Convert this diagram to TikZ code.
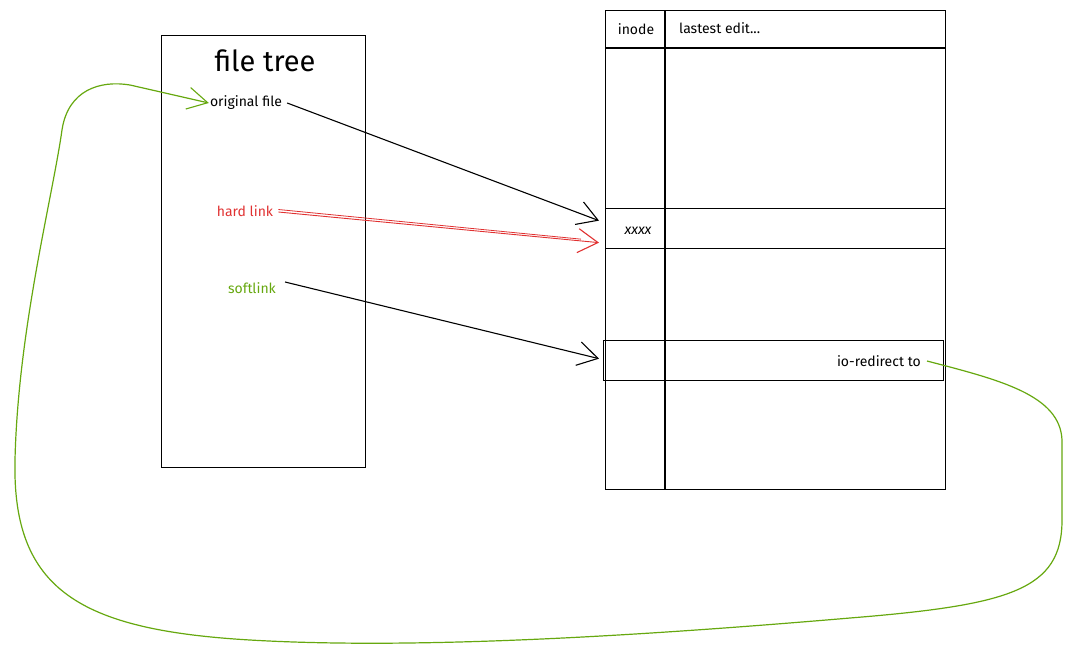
\documentclass[tikz,border=0pt]{standalone}
\usepackage{fontspec}
\setmainfont{Fira Sans}
\usetikzlibrary{arrows.meta,calc}
\definecolor{exred}{RGB}{224,49,49}
\definecolor{exgreen}{RGB}{102,168,15}
\tikzset{
  box/.style={draw=black, line width=1.3pt},
  lbl/.style={font=\fontsize{14}{16}\selectfont, inner sep=1pt},
  arr/.style={line width=1.1pt, -{Straight Barb[length=20pt,width=24pt,line width=1.1pt]}},
}
\begin{document}
\begin{tikzpicture}[x=1pt,y=-1pt]
\useasboundingbox (0,0) rectangle (1078,654);
% file tree
\node[box, minimum width=204pt, minimum height=432pt, anchor=north west, inner sep=0pt] (tree) at (161,35) {};
\node[font=\fontsize{29}{32}\selectfont] (title) at (265,61) {file tree};
\node[lbl] (orig) at (246,103) {original file};
\node[lbl, text=exred] (hard) at (245,211) {hard link};
\node[lbl, text=exgreen] (soft) at (252,288) {softlink};
% table
\node[box, minimum width=340pt, minimum height=479pt, anchor=north west, inner sep=0pt] (table) at (605,10) {};
\draw[box] (665,10) -- (665,489);
\draw[box] (605,48) -- (945,48);
\node[lbl, anchor=center] (inode) at (636,29) {inode};
\node[lbl, anchor=west] (edit) at (678,28) {lastest edit...};
\node[box, minimum width=340pt, minimum height=40pt, anchor=north west, inner sep=0pt] (rowx) at (605,208) {};
\node[lbl, font=\fontsize{14}{16}\itshape] (xxxx) at (638,231) {xxxx};
\node[box, minimum width=340pt, minimum height=40pt, anchor=north west, inner sep=0pt] (rowio) at (603,340) {};
\node[lbl, anchor=east] (io) at (922,361) {io-redirect to};
% arrows
\draw[arr] ($(orig.east)+(4,0)$) -- ($(rowx.west)+(-6,-8)$);
\draw[exred, line width=0.8pt] ($(hard.east)+(4,-1.5)$) -- ($(rowx.west)+(-24,10.5)$);
\draw[arr, exred, line width=0.9pt] ($(hard.east)+(4,1)$) -- ($(rowx.west)+(-6,14)$);
\draw[arr] ($(soft.east)+(8,-6)$) -- ($(rowio.west)+(-4,-2)$);
% green loop
\draw[exgreen, line width=1.2pt, -{Straight Barb[length=20pt,width=22pt,line width=1.1pt]}]
  ($(io.east)+(5,0)$) .. controls (1000,380) and (1060,395) .. (1062,440)
  -- (1062,520)
  .. controls (1062,590) and (1010,605) .. (850,618)
  .. controls (650,635) and (420,650) .. (250,640)
  .. controls (80,630) and (12,590) .. (15,460)
  .. controls (18,330) and (52,200) .. (62,130)
  .. controls (68,90) and (100,80) .. (130,85)
  -- (orig.west);
\end{tikzpicture}
\end{document}
